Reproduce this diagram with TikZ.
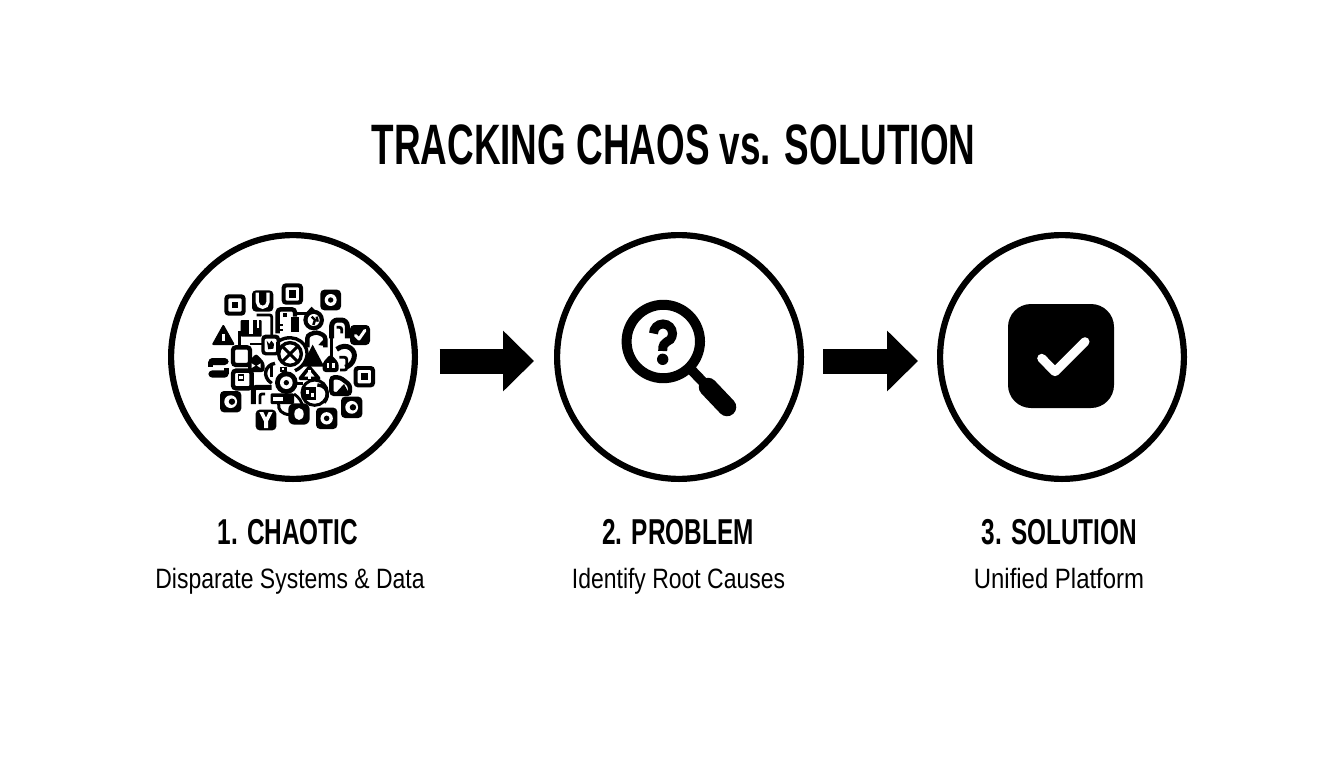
\documentclass[tikz,border=0pt]{standalone}
\usepackage{fontspec}
\usetikzlibrary{arrows.meta,calc}
\newfontfamily\titlefont[FakeStretch=0.647]{Liberation Sans}
\newfontfamily\stepfont[FakeStretch=0.677]{Liberation Sans}
\newfontfamily\subfont[FakeStretch=0.82]{Liberation Sans}
\newfontfamily\subwidefont[FakeStretch=0.855]{Liberation Sans}
\tikzset{
  stage/.style={circle,draw=black,line width=6.2pt,minimum size=243.8pt,inner sep=0pt},
  flow/.style={line width=25pt,draw=black,-{Triangle[length=31pt,width=59pt]}},
  maintitle/.style={font=\titlefont\bfseries\fontsize{57}{60}\selectfont,inner sep=0pt,anchor=base},
  steptitle/.style={font=\stepfont\bfseries\fontsize{36}{40}\selectfont,inner sep=0pt,anchor=base},
  stepsub/.style={font=\subfont\fontsize{28}{32}\selectfont,inner sep=0pt,anchor=base},
  tile/.style={fill=black,rounded corners=4pt},
  wire/.style={draw=black,line width=2.8pt,rounded corners=2pt},
  heavy/.style={draw=black,line width=4.4pt,rounded corners=3pt},
}
\newcommand{\tile}[3]{\fill[tile] (#1-#3,#2-#3) rectangle (#1+#3,#2+#3);}
\newcommand{\sqtile}[4]{\tile{#1}{#2}{#3}\fill[white,rounded corners=1pt] (#1-#3*0.62,#2-#3*0.62) rectangle (#1+#3*0.62,#2+#3*0.62);\fill[black] (#1-#4,#2-#4) rectangle (#1+#4,#2+#4);}
\newcommand{\ringtile}[3]{\tile{#1}{#2}{#3}\fill[white] (#1,#2) circle [radius=#3*0.58];\fill[black] (#1,#2) circle [radius=#3*0.26];}
\newcommand{\ctile}[3]{\tile{#1}{#2}{#3}\fill[white] (#1,#2) circle [radius=#3*0.6];\fill[black] (#1+#3*0.12,#2) circle [radius=#3*0.3];}
\begin{document}
\begin{tikzpicture}[x=1pt,y=-1pt]
\useasboundingbox (0,0) rectangle (1344,768);
\fill[white] (0,0) rectangle (1344,768);
\node[maintitle] (title) at (673.5,164) {TRACKING CHAOS vs. SOLUTION};
\node[stage] (c1) at (293,357) {};
\node[stage] (c2) at (679,357) {};
\node[stage] (c3) at (1062,357) {};
\coordinate (a1s) at ($(c1.east)+(21.5,4)$); \coordinate (a1e) at ($(c2.west)+(-20,4)$);
\coordinate (a2s) at ($(c2.east)+(19,4)$);   \coordinate (a2e) at ($(c3.west)+(-19,4)$);
\draw[flow] (a1s) -- (a1e);
\draw[flow] (a2s) -- (a2e);
\node[steptitle] (t1) at (288,544) {1. CHAOTIC};
\node[steptitle] (t2) at (678,544) {2. PROBLEM};
\node[steptitle] (t3) at (1059.5,544) {3. SOLUTION};
\node[stepsub] (s1) at (290,588) {Disparate Systems \& Data};
\node[stepsub] (s2) at (678.5,588) {Identify Root Causes};
\node[stepsub,font=\subwidefont\fontsize{28}{32}\selectfont] (s3) at (1059,588) {Unified Platform};
% --- chaos cluster, drawn in 3x crop coordinates ---
\begin{scope}[shift={(200,270)},x=0.33333pt,y=-0.33333pt]
\draw[wire] (170,135) -- (215,135) -- (215,200);
\draw[heavy] (233,190) -- (233,118) -- (285,118) -- (285,140);
\fill[black] (274,140) rectangle (296,186);
\draw[wire] (235,165) -- (250,165); \draw[wire] (235,180) -- (250,180);
\draw[wire] (285,130) -- (330,130);
\fill[black] (250,130) rectangle (262,140);
\fill[black] (341,150) circle [radius=31];
\fill[black] (335,110) -- (352,128) -- (318,128) -- cycle;
\fill[white] (341,150) circle [radius=18];
\draw[black,line width=2.4pt] (335,140) -- (345,150) -- (340,165);
\draw[black,line width=2.4pt] (350,140) -- (353,155);
\draw[heavy,line width=5pt,rounded corners=6pt] (395,205) -- (395,150) -- (442,150) -- (442,205);
\draw[wire] (410,172) -- (425,172) -- (425,190);
\fill[black,rounded corners=1pt] (122,150) rectangle (185,200);
\fill[white] (148,150) rectangle (158,192);
\fill[white] (172,150) rectangle (178,175);
\draw[wire] (118,182) -- (118,232);
\draw[heavy] (99,232) rectangle (150,285);
\draw[wire] (150,222) -- (185,222);
\fill[tile] (184,194) rectangle (240,256);
\fill[white,rounded corners=2pt] (194,206) rectangle (230,246);
\fill[black] (200,212) -- (208,222) -- (214,212) -- (222,222) -- (220,236) -- (205,238) -- cycle;
\draw[black,line width=3.4pt] (238,212) .. controls (285,185) and (335,225) .. (318,268) .. controls (312,285) and (300,295) .. (285,302);
\draw[black,line width=3.4pt] (270,252) circle [radius=34];
\draw[black,line width=3pt] (246,228) -- (294,276);
\draw[black,line width=3pt] (294,228) -- (246,276);
\draw[wire] (233,255) -- (233,215);
\draw[heavy] (322,232) -- (322,196) -- (350,186) -- (376,198) -- (376,232);
\fill[black] (355,225) -- (374,205) -- (374,228) -- cycle;
\draw[wire] (395,205) -- (395,260);
\fill[black] (338,224) -- (373,290) -- (304,290) -- cycle;
\draw[black,line width=5pt] (410,238) .. controls (440,215) and (470,240) .. (462,265) .. controls (458,280) and (448,288) .. (436,292);
\draw[wire] (418,262) -- (440,262) -- (440,300) -- (420,300);
\fill[black,rounded corners=3pt] (168,250) -- (194,278) -- (194,306) -- (144,306) -- (144,278) -- cycle;
\fill[white] (155,280) -- (166,287) -- (155,294) -- cycle; \fill[white] (182,280) -- (171,287) -- (182,294) -- cycle;
\fill[black,rounded corners=3pt] (392,252) -- (416,278) -- (416,306) -- (368,306) -- (368,278) -- cycle;
\fill[white] (380,280) rectangle (388,294); \fill[white] (397,280) rectangle (405,294);
\draw[black,line width=3.6pt,line join=round] (328,292) -- (356,325) -- (301,325) -- cycle;
\fill[white] (323,300) rectangle (333,327);
\draw[wire] (290,340) -- (310,340);
\draw[black,line width=3.4pt] (225,280) .. controls (195,285) and (185,320) .. (215,340);
\draw[wire] (215,282) -- (215,320);
\fill[black] (240,290) rectangle (262,305);
\fill[white] (245,294) rectangle (252,301);
\fill[black] (259,338) circle [radius=34];
\fill[white] (259,338) circle [radius=19];
\fill[black] (259,338) circle [radius=8];
\draw[heavy] (99,302) rectangle (155,355);
\fill[black] (113,312) rectangle (133,332);
\fill[white] (118,318) rectangle (128,326);
\draw[heavy,line width=5pt] (160,402) -- (160,352) -- (215,352);
\draw[wire] (180,402) -- (180,372) -- (195,372);
\fill[black,rounded corners=1pt] (212,370) rectangle (282,402);
\fill[white] (220,380) rectangle (250,392);
\draw[wire] (282,372) .. controls (300,385) and (305,395) .. (308,410);
\draw[black,line width=3pt] (236,402) .. controls (234,420) and (245,432) .. (268,434);
\draw[black,line width=3pt] (344,368) circle [radius=38];
\fill[black] (308,352) rectangle (348,390);
\fill[white] (318,360) rectangle (328,372); \fill[white] (334,368) rectangle (342,382);
\draw[black,line width=3.4pt] (352,345) .. controls (380,345) and (392,375) .. (372,398);
\draw[heavy] (394,322) -- (394,372) -- (450,372) -- (450,345) -- (420,322) -- cycle;
\fill[black] (408,368) -- (432,342) -- (446,368) -- cycle;
\sqtile{105}{105}{32}{10}
\tile{188}{93}{32}
\draw[white,line width=3.2pt] (172,68) -- (172,96) arc (180:0:16) -- (204,68);
\sqtile{277}{72}{32}{11}
\ringtile{392}{90}{31}
\sqtile{493}{320}{32}{11}
\ctile{92}{395}{32}
\ctile{455}{412}{32}
\ringtile{380}{445}{32}
\tile{480}{195}{30}
\draw[white,line width=3pt,line cap=round,line join=round] (466,196) -- (477,207) -- (495,181);
\tile{198}{450}{31}
\fill[white] (178,426) -- (190,426) -- (198,443) -- (206,426) -- (218,426) -- (204,454) -- (204,474) -- (192,474) -- (192,454) -- cycle;
\fill[black,rounded corners=6pt] (265,400) rectangle (329,464);
\fill[white] (297,432) ellipse [x radius=14,y radius=18];
\fill[black,draw=black,line width=2pt,line join=round] (70,168) -- (100,222) -- (40,222) -- cycle;
\fill[white] (65,192) rectangle (76,212);
\fill[black,rounded corners=4pt] (25,264) rectangle (86,285);
\fill[black,rounded corners=4pt] (25,301) rectangle (86,323);
\fill[black] (25,275) rectangle (40,292);
\fill[black] (71,293) rectangle (86,311);
\end{scope}
% --- magnifier ---
\draw[black,line width=10pt] (663.3,341.5) circle [radius=36.7];
\draw[black,line width=10pt] (692,370.5) -- (704,383);
\draw[black,line width=18.5pt,line cap=round] (708,387) -- (727,407);
\draw[black,line width=9pt] (653.5,333.5) arc (180:400:9.5) .. controls (663,344) and (662.7,345) .. (662.7,351);
\fill[black] (662.7,359.3) circle [radius=5.7];
% --- check box ---
\fill[black,rounded corners=23pt] (1008,304) rectangle (1114,408);
\draw[white,line width=9pt,line cap=round,line join=round] (1041.7,358.3) -- (1055,371.7) -- (1085,341.7);
\end{tikzpicture}
\end{document}
